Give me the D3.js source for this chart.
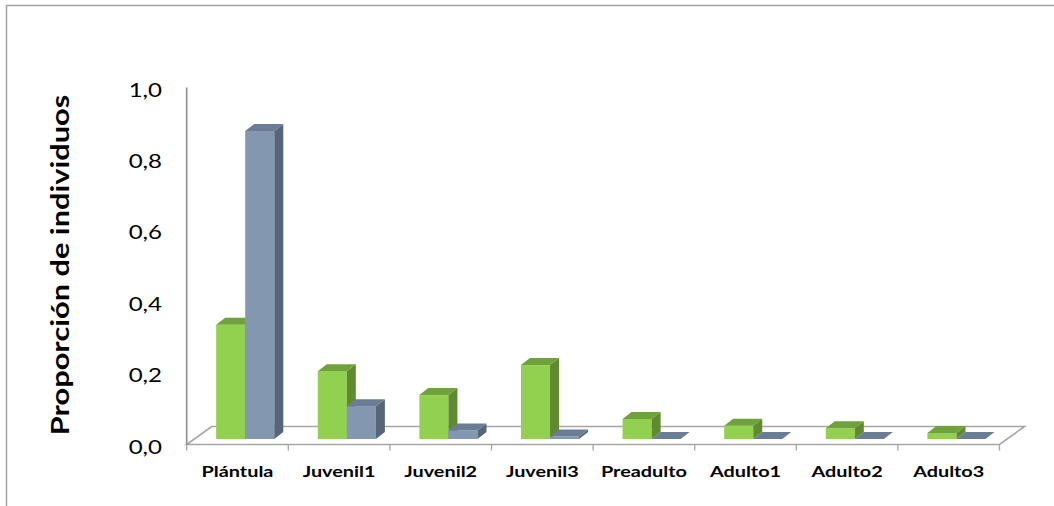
<!DOCTYPE html>
<html>
<head>
<meta charset="utf-8">
<script src="https://cdn.jsdelivr.net/npm/d3@7"></script>
<style>
  html, body { margin: 0; padding: 0; background: #fff; }
  svg { display: block; font-family: Lato, "Open Sans", sans-serif; }
</style>
</head>
<body>
<svg id="chart" width="1054" height="506"></svg>
<script>
// Categories and the two series (proportion of individuals per stage)
const categories = ["Plántula", "Juvenil1", "Juvenil2", "Juvenil3", "Preadulto", "Adulto1", "Adulto2", "Adulto3"];
const seriesNames = ["serie1", "serie2"];
const serie1 = [0.32, 0.19, 0.123, 0.207, 0.056, 0.037, 0.03, 0.017];
const serie2 = [0.863, 0.092, 0.024, 0.007, 0.0, 0.0, 0.0, 0.0];
const yTicks = [0, 0.2, 0.4, 0.6, 0.8, 1.0];
const yTitle = "Proporción de individuos";

const svg = d3.select("#chart");

// outer frame of the chart area
svg.append("path")
  .attr("d", "M6.5,506 L6.5,5.5 L1054,5.5")
  .attr("fill", "none")
  .attr("stroke", "#a3a3a3")
  .attr("stroke-width", 1.5);

// floor geometry (oblique projection)
const floorFrontY = 444.5;
const depth = { dx: 25, dy: -18 };
const barDepth = { dx: 9, dy: -7 };
const baseShift = 5.5; // bars stand a little behind the front edge of the floor

const x = d3.scaleBand().domain(categories).range([186.7, 999.5]).paddingInner(0).paddingOuter(0);
const bw = x.bandwidth();
const xs = d3.scaleBand().domain(seriesNames).range([bw * 0.29, bw * 0.862]);

const y = d3.scaleLinear().domain([0, 1]).range([floorFrontY, floorFrontY - 357]);

const fmt = d => d3.format(".1f")(d).replace(".", ",");

// wide text: glyphs are stretched along the reading direction
const stretch = { yLabels: 1.3, categories: 1.28, title: 1.23 };

// floor
const x0 = x.range()[0], x1 = x.range()[1];
svg.append("path")
  .attr("d", `M${x0},${floorFrontY} L${x1},${floorFrontY} L${x1 + depth.dx},${floorFrontY + depth.dy} L${x0 + depth.dx},${floorFrontY + depth.dy} Z`)
  .attr("fill", "none")
  .attr("stroke", "#a6a6a6")
  .attr("stroke-width", 1.6);

// category ticks under the front edge
svg.append("g").selectAll("line")
  .data(d3.range(categories.length + 1))
  .join("line")
  .attr("x1", i => x0 + i * bw)
  .attr("x2", i => x0 + i * bw)
  .attr("y1", floorFrontY)
  .attr("y2", floorFrontY + 6)
  .attr("stroke", "#a6a6a6")
  .attr("stroke-width", 1.3);

// value axis line
svg.append("line")
  .attr("x1", x0).attr("x2", x0)
  .attr("y1", y(1)).attr("y2", y(0))
  .attr("stroke", "#8c8c8c")
  .attr("stroke-width", 1.6);

// value axis labels
svg.append("g").selectAll("text")
  .data(yTicks)
  .join("text")
  .attr("transform", d => `translate(162,${y(d) + 9}) scale(${stretch.yLabels},1)`)
  .attr("text-anchor", "end")
  .attr("font-size", 18.5)
  .attr("fill", "#000")
  .text(fmt);

// axis title
svg.append("text")
  .attr("transform", `translate(69,265) rotate(-90) scale(${stretch.title},1)`)
  .attr("text-anchor", "middle")
  .attr("font-size", 25)
  .attr("font-weight", "bold")
  .attr("fill", "#000")
  .text(yTitle);

// category labels
svg.append("g").selectAll("text")
  .data(categories)
  .join("text")
  .attr("transform", d => `translate(${x(d) + bw / 2},477) scale(${stretch.categories},1)`)
  .attr("text-anchor", "middle")
  .attr("font-size", 15.5)
  .attr("font-weight", "bold")
  .attr("fill", "#000")
  .text(d => d);

// 3D bars
const palette = {
  serie1: { front: "#92d050", side: "#5f8a2f", top: "#6fa23a" },
  serie2: { front: "#8497b0", side: "#566579", top: "#6b7d95" }
};

const rows = categories.map((c, i) => ({ cat: c, values: [
  { s: "serie1", v: serie1[i] },
  { s: "serie2", v: serie2[i] }
]}));

const gBars = svg.append("g");
rows.forEach(row => {
  row.values.forEach(d => {
    const left = x(row.cat) + xs(d.s);
    const w = xs.bandwidth();
    const bottom = y(0) - baseShift;
    const top = y(d.v) - baseShift;
    const c = palette[d.s];
    const g = gBars.append("g");
    // front face
    if (bottom - top > 0.2) {
      g.append("rect")
        .attr("x", left).attr("y", top)
        .attr("width", w).attr("height", bottom - top)
        .attr("fill", c.front);
    }
    // side face
    g.append("path")
      .attr("d", `M${left + w},${top} L${left + w + barDepth.dx},${top + barDepth.dy} L${left + w + barDepth.dx},${bottom + barDepth.dy} L${left + w},${bottom} Z`)
      .attr("fill", c.side);
    // top face
    g.append("path")
      .attr("d", `M${left},${top} L${left + barDepth.dx},${top + barDepth.dy} L${left + w + barDepth.dx},${top + barDepth.dy} L${left + w},${top} Z`)
      .attr("fill", c.top);
  });
});
</script>
</body>
</html>
